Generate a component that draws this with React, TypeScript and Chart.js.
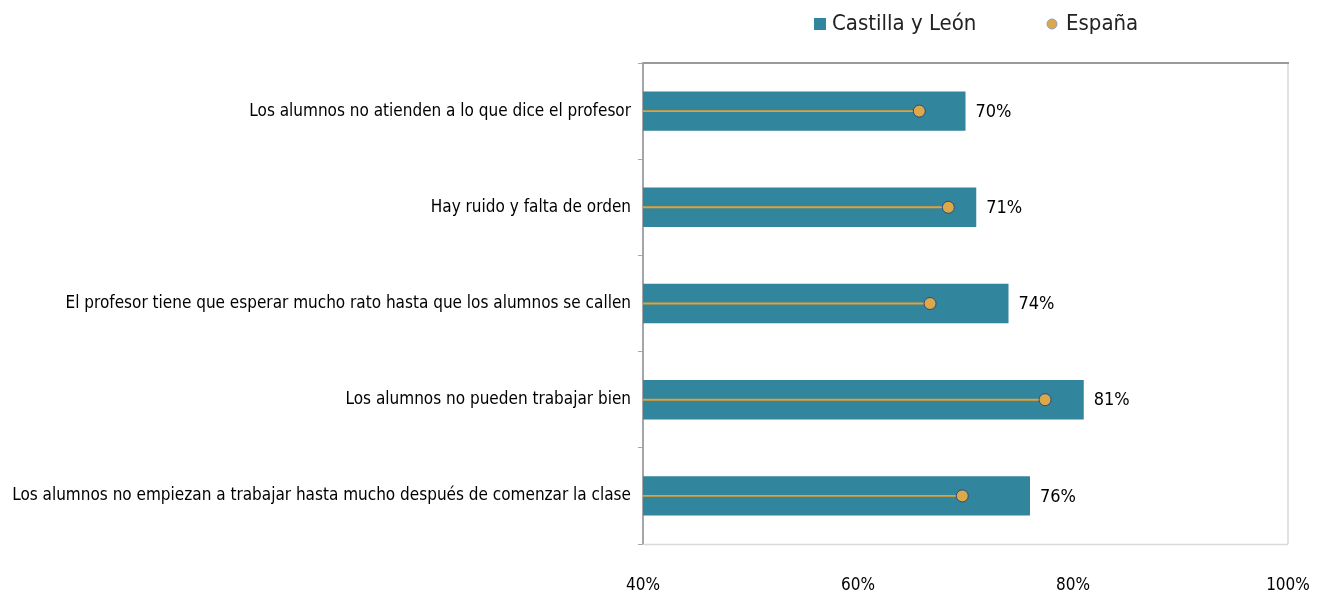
import React, { useEffect, useRef } from 'react';
import { Chart, registerables } from 'chart.js';

Chart.register(...registerables);

const categories = [
  'Los alumnos no atienden a lo que dice el profesor',
  'Hay ruido y falta de orden',
  'El profesor tiene que esperar mucho rato hasta que los alumnos se callen',
  'Los alumnos no pueden trabajar bien',
  'Los alumnos no empiezan a trabajar hasta mucho después de comenzar la clase',
];
const castillaLeon = [70, 71, 74, 81, 76];
const espana = [65.7, 68.4, 66.7, 77.4, 69.7];
const xTicks = [40, 60, 80, 100];
const seriesNames = ['Castilla y León', 'España'];

const FONT = '"Liberation Sans Narrow", "DejaVu Sans Condensed", "Noto Sans", sans-serif';
const TEAL = '#31859C';
const GOLD = '#DBA84A';
const DOT_BORDER = '#2F4B7C';
const LINE = '#E8A030';

const decorPlugin = {
  id: 'decor',
  beforeDatasetsDraw(chart: any) {
    const { ctx, chartArea } = chart;
    const { left, right, top, bottom } = chartArea;
    ctx.save();
    ctx.strokeStyle = '#d9d9d9';
    ctx.lineWidth = 1.5;
    ctx.beginPath();
    ctx.moveTo(left, bottom + 0.5);
    ctx.lineTo(right, bottom + 0.5);
    ctx.moveTo(right, top);
    ctx.lineTo(right, bottom);
    ctx.stroke();
    ctx.strokeStyle = '#9a9a9a';
    ctx.lineWidth = 2;
    ctx.beginPath();
    ctx.moveTo(left, top);
    ctx.lineTo(right + 1, top);
    ctx.stroke();
    ctx.restore();
  },
  afterDatasetsDraw(chart: any) {
    const { ctx } = chart;
    const meta = chart.getDatasetMeta(2);
    ctx.save();
    ctx.font = `18px ${FONT}`;
    ctx.fillStyle = '#000';
    ctx.textAlign = 'left';
    ctx.textBaseline = 'middle';
    meta.data.forEach((el: any, i: number) => {
      ctx.fillText(`${castillaLeon[i]}%`, el.x + 10, el.y + 1);
    });
    ctx.restore();
  },
  afterDraw(chart: any) {
    const { ctx } = chart;
    ctx.save();
    ctx.font = `22px ${FONT}`;
    ctx.textBaseline = 'middle';
    const y = 24;
    let x = 814;
    ctx.fillStyle = TEAL;
    ctx.fillRect(x, y - 6, 12, 12);
    ctx.fillStyle = '#222';
    ctx.fillText(seriesNames[0], x + 18, y);
    x = 1052;
    ctx.beginPath();
    ctx.arc(x, y, 5, 0, Math.PI * 2);
    ctx.fillStyle = GOLD;
    ctx.fill();
    ctx.strokeStyle = '#8aa0c0';
    ctx.lineWidth = 1;
    ctx.stroke();
    ctx.fillStyle = '#222';
    ctx.fillText(seriesNames[1], x + 14, y);
    ctx.restore();
  },
};

export default function App() {
  const ref = useRef<HTMLCanvasElement>(null);
  useEffect(() => {
    if (!ref.current) return;
    const chart = new Chart(ref.current, {
      type: 'bar',
      data: {
        labels: categories,
        datasets: [
          {
            type: 'line',
            label: seriesNames[1],
            data: espana,
            indexAxis: 'y',
            showLine: false,
            pointRadius: 6,
            pointBackgroundColor: GOLD,
            pointBorderColor: DOT_BORDER,
            pointBorderWidth: 1,
            order: 0,
          } as any,
          {
            type: 'bar',
            label: 'línea',
            data: espana.map((v) => [xTicks[0], v]),
            backgroundColor: LINE,
            barThickness: 1.2,
            grouped: false,
            order: 1,
          } as any,
          {
            type: 'bar',
            label: seriesNames[0],
            data: castillaLeon,
            backgroundColor: TEAL,
            categoryPercentage: 1,
            barPercentage: 0.41,
            grouped: false,
            order: 2,
          } as any,
        ],
      },
      options: {
        indexAxis: 'y',
        animation: false,
        responsive: true,
        maintainAspectRatio: false,
        layout: { padding: { top: 63, right: 37, left: 0, bottom: 0 } },
        plugins: {
          legend: { display: false },
          tooltip: { enabled: false },
        },
        scales: {
          x: {
            type: 'linear',
            min: xTicks[0],
            max: xTicks[xTicks.length - 1],
            afterBuildTicks: (scale: any) => {
              scale.ticks = xTicks.map((v) => ({ value: v }));
            },
            afterFit: (scale: any) => {
              scale.height = 52;
              scale.paddingLeft = 0;
              scale.paddingRight = 0;
            },
            grid: { display: false, drawTicks: false },
            border: { display: false },
            ticks: {
              color: '#000',
              font: { family: FONT, size: 17 },
              padding: 31,
              maxRotation: 0,
              callback: (v: any) => `${v}%`,
            },
          },
          y: {
            type: 'category',
            afterFit: (scale: any) => {
              scale.width = 643;
            },
            grid: {
              drawOnChartArea: false,
              drawTicks: true,
              tickLength: 5,
              color: '#a6a6a6',
              offset: true,
            },
            border: { display: true, color: '#a6a6a6', width: 2 },
            ticks: {
              color: '#000',
              font: { family: FONT, size: 17 },
              padding: 7,
              autoSkip: false,
            },
          },
        },
      },
      plugins: [decorPlugin],
    });
    return () => chart.destroy();
  }, []);
  return (
    <div style={{ position: 'absolute', left: 0, top: 0, width: 1325, height: 596 }}>
      <canvas ref={ref} />
    </div>
  );
}
